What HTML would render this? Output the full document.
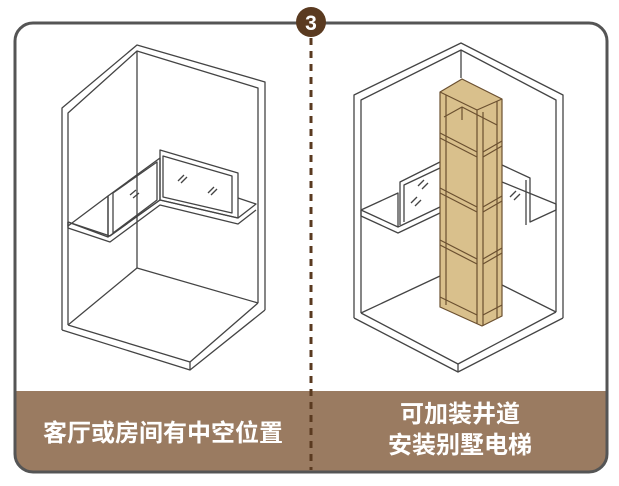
<!DOCTYPE html>
<html><head><meta charset="utf-8"><style>
html,body{margin:0;padding:0;background:#fff;}
svg{display:block;}
text{font-family:"Liberation Sans","Noto Sans CJK SC",sans-serif;font-weight:bold;}
</style></head><body>
<svg width="619" height="486" viewBox="0 0 619 486" xmlns="http://www.w3.org/2000/svg">
<defs><clipPath id="c"><rect x="15" y="23" width="592" height="449" rx="18"/></clipPath></defs>
<rect x="15" y="391" width="592" height="81" fill="#9a7b61" clip-path="url(#c)"/>
<rect x="15" y="23" width="592" height="449" rx="18" fill="none" stroke="#555" stroke-width="3"/>
<line x1="311" y1="38" x2="311" y2="470" stroke="#5a3a20" stroke-width="3" stroke-dasharray="7,6"/>
<circle cx="311" cy="22" r="15" fill="#5a3a20"/>
<text x="311" y="30" fill="#fff" font-size="21" text-anchor="middle">3</text>
<g fill="none" stroke="#444" stroke-width="1.3" stroke-linejoin="round">
<polyline points="62,330 62,108 137,45 265,82 265,310"/>
<polyline points="68,325 68,113 137,51 258,88 258,303"/>
<line x1="137" y1="51" x2="137" y2="268"/>
<polyline points="68,325 137,268 258,303"/>
<polyline points="62,330 190,370 265,310"/>
<polyline points="68,325 190,362 258,303"/>
<line x1="190" y1="362" x2="190" y2="370"/>
<polygon points="68,226 108,196 108,237 68,222"/>
<polyline points="68,222 68,228 110,242 160,205 238,224 256,210"/>
<polyline points="68,222 110,236 160,200 238,218 256,204 238,198"/>
<polygon points="108,196 108,237 160,200 160,158"/>
<polygon points="113,193 113,233 157,200 157,162"/>
<polygon points="160,150 160,200 238,218 238,173"/>
<polygon points="163,156 163,197 232,213 232,176"/>
<line x1="130" y1="195" x2="136" y2="190"/><line x1="133" y1="198" x2="139" y2="193"/>
<line x1="178" y1="181" x2="184" y2="175"/><line x1="181" y1="183" x2="187" y2="177"/>
<line x1="208" y1="193" x2="214" y2="187"/><line x1="211" y1="195" x2="217" y2="189"/>
<polyline points="354,318 354,95 461,43 563,95 563,318"/>
<polyline points="361,313 361,100 461,50 556,100 556,312"/>
<line x1="461" y1="50" x2="461" y2="78"/>
<polyline points="354,318 458,372 563,318"/>
<polyline points="361,313 458,364 556,312"/>
<line x1="458" y1="364" x2="458" y2="372"/>
<polyline points="361,313 440,276"/><polyline points="502,285 556,312"/>
<polyline points="361,210 361,216 398,233 440,213"/>
<polyline points="361,210 398,227 440,207"/>
<polyline points="361,210 398,193 398,227"/>
<polyline points="400,225 400,182 440,162"/>
<polyline points="404,222 404,185 440,168"/>
<polyline points="502,165 530,178 530,222 556,210 556,204 502,182"/>
<polyline points="526,180 526,225"/>
<line x1="411" y1="203" x2="417" y2="197"/><line x1="415" y1="206" x2="421" y2="200"/>
<line x1="418" y1="186" x2="424" y2="180"/><line x1="422" y1="189" x2="428" y2="183"/>
<line x1="510" y1="197" x2="516" y2="191"/><line x1="514" y1="200" x2="520" y2="194"/>
</g>
<g stroke="#6b5030" stroke-width="1.2" stroke-linejoin="round">
<polygon points="440,92 462,79 502,99 502,316 482,326 440,307" fill="#d9c08c"/>
<polyline points="440,92 477,110 502,99" fill="none"/>
<line x1="477" y1="110" x2="477" y2="324"/><line x1="483" y1="112" x2="483" y2="326"/>
<line x1="446" y1="95" x2="446" y2="305"/><line x1="497" y1="101" x2="497" y2="318"/>
<polyline points="444,117 462,107 497,125" fill="none"/>
<line x1="462" y1="107" x2="462" y2="120"/>
<line x1="440" y1="133" x2="477" y2="152"/><line x1="440" y1="138" x2="477" y2="157"/>
<line x1="483" y1="152" x2="502" y2="141"/><line x1="483" y1="157" x2="502" y2="146"/>
<line x1="440" y1="188" x2="477" y2="207"/><line x1="440" y1="193" x2="477" y2="212"/>
<line x1="483" y1="207" x2="502" y2="196"/><line x1="483" y1="212" x2="502" y2="201"/>
<line x1="440" y1="240" x2="477" y2="259"/><line x1="440" y1="245" x2="477" y2="264"/>
<line x1="483" y1="259" x2="502" y2="248"/><line x1="483" y1="264" x2="502" y2="253"/>
<line x1="440" y1="297" x2="477" y2="315"/><line x1="483" y1="315" x2="502" y2="305"/>
</g>
<text x="163" y="441" fill="#fff" font-size="24" text-anchor="middle">客厅或房间有中空位置</text>
<text x="460" y="422" fill="#fff" font-size="24" text-anchor="middle">可加装井道</text>
<text x="460" y="453" fill="#fff" font-size="24" text-anchor="middle">安装别墅电梯</text>
</svg>
</body></html>
